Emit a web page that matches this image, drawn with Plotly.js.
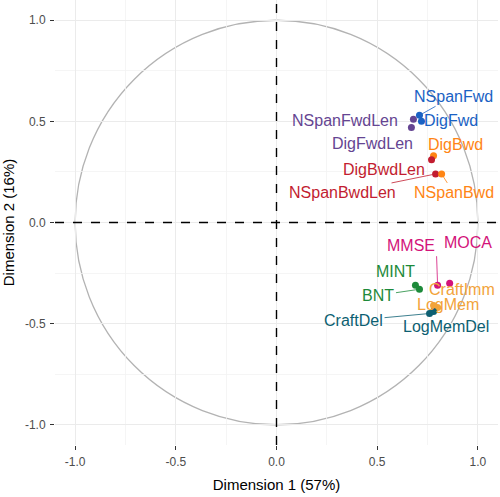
<!DOCTYPE html>
<html>
<head>
<meta charset="utf-8">
<script src="https://cdn.plot.ly/plotly-3.0.1.min.js"></script>
<style>html,body{margin:0;padding:0;background:#fff;}#chart{width:500px;height:497px;}</style>
</head>
<body>
<div id="chart"></div>
<script>
// Data
const variables = ["NSpanFwd","DigFwd","NSpanFwdLen","DigFwdLen","DigBwd","DigBwdLen","NSpanBwdLen","NSpanBwd","MMSE","MOCA","MINT","BNT","CraftImm","LogMem","CraftDel","LogMemDel"];
const dim1 = [0.71, 0.72, 0.68, 0.67, 0.78, 0.77, 0.79, 0.82, 0.80, 0.86, 0.69, 0.71, 0.80, 0.78, 0.76, 0.78];
const dim2 = [0.53, 0.50, 0.51, 0.47, 0.33, 0.31, 0.24, 0.24, -0.31, -0.30, -0.31, -0.33, -0.42, -0.41, -0.45, -0.44];
const groups = ["fwd","fwd","fwdlen","fwdlen","bwd","bwdlen","bwdlen","bwd","screen","screen","lang","lang","memimm","memimm","memdel","memdel"];
const xTicks = [-1.0, -0.5, 0.0, 0.5, 1.0];
const yTicks = [-1.0, -0.5, 0.0, 0.5, 1.0];
const xTitle = "Dimension 1 (57%)";
const yTitle = "Dimension 2 (16%)";

// Styles
const groupColors = {fwd:"#1a62c4", fwdlen:"#654592", bwd:"#ff8514", bwdlen:"#c21d30",
  screen:"#d3137a", lang:"#1d8a3a", memimm:"#f2a33a", memdel:"#0d5f72"};
// label placement: [dx px, dy px, draw segment, xanchor, yanchor]
const labelOffsets = [
  [34,-19,true],[30,-1,false],[-68,1,false],[-39,16,false],
  [22,-11,false],[-48,10,false],[-93,19,true],[12,19,true],
  [-1,-29,true,"right","bottom"],[18,-41,false],[-20,-14,false],[-41,6,true],
  [24,-18,false],[14,-1,false],[-76,7,true],[12,15,false]
];

const colors = groups.map(g => groupColors[g]);

const trace = {
  type: "scatter", mode: "markers",
  x: dim1, y: dim2, text: variables,
  marker: {color: colors, size: 7},
  hoverinfo: "text", showlegend: false, cliponaxis: false
};

const annotations = variables.map((v, i) => ({
  x: dim1[i], y: dim2[i], xref: "x", yref: "y",
  text: v, showarrow: true,
  ax: labelOffsets[i][0], ay: labelOffsets[i][1],
  xanchor: labelOffsets[i][3] || "auto", yanchor: labelOffsets[i][4] || "auto",
  arrowhead: 0, arrowwidth: 0.8, standoff: 3, startstandoff: 0,
  arrowcolor: labelOffsets[i][2] ? colors[i] : "rgba(0,0,0,0)",
  font: {family: "Liberation Sans, Arial, sans-serif", size: 16, color: colors[i]}
}));

const fmt = v => v.toFixed(1);

const axisCommon = {
  range: [-1.1, 1.1], zeroline: false, showline: false,
  showgrid: true, gridcolor: "#ebebeb", gridwidth: 1,
  ticks: "outside", ticklen: 4, tickwidth: 1.2, tickcolor: "#333333",
  ticklabelstandoff: 2,
  tickfont: {family: "Liberation Sans, Arial, sans-serif", size: 12, color: "#4d4d4d"},
  minor: {dtick: 0.25, tick0: 0, showgrid: true, gridcolor: "#f2f2f2", gridwidth: 0.8, ticks: ""}
};

const layout = {
  width: 500, height: 497,
  margin: {l: 55, r: 2, t: 0, b: 52},
  paper_bgcolor: "#ffffff", plot_bgcolor: "#ffffff",
  font: {family: "Liberation Sans, Arial, sans-serif"},
  xaxis: Object.assign({}, axisCommon, {
    tickmode: "array", tickvals: xTicks, ticktext: xTicks.map(fmt),
    title: {text: xTitle, font: {size: 15, color: "#000000"}, standoff: 11}
  }),
  yaxis: Object.assign({}, axisCommon, {
    tickmode: "array", tickvals: yTicks, ticktext: yTicks.map(fmt),
    title: {text: yTitle, font: {size: 15, color: "#000000"}, standoff: 6}
  }),
  shapes: [
    {type: "circle", xref: "x", yref: "y", x0: -1, x1: 1, y0: -1, y1: 1,
     line: {color: "#b3b3b3", width: 1.3}, layer: "below"},
    {type: "line", xref: "x", yref: "paper", x0: 0, x1: 0, y0: 0, y1: 1,
     line: {color: "#000000", width: 1.4, dash: "dash"}},
    {type: "line", xref: "paper", yref: "y", x0: 0, x1: 1, y0: 0, y1: 0,
     line: {color: "#000000", width: 1.4, dash: "dash"}}
  ],
  annotations: annotations
};

Plotly.newPlot("chart", [trace], layout, {displayModeBar: false, staticPlot: true});
</script>
</body>
</html>
